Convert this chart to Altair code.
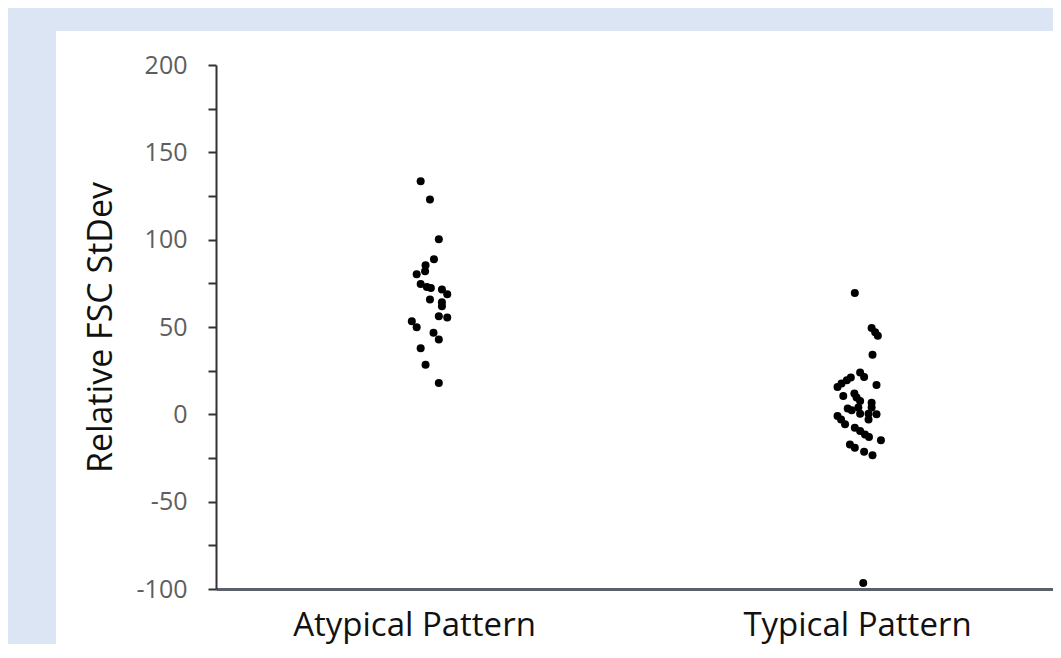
import altair as alt
import pandas as pd

categories = ["Atypical Pattern", "Typical Pattern"]

# Atypical Pattern: values and horizontal jitter (fraction of category spacing)
atypical_values = [133.5, 123.0, 100.3, 88.8, 85.3, 81.9, 80.2, 74.6, 72.9, 72.3,
                   71.5, 68.7, 65.8, 64.2, 61.9, 56.2, 55.4, 53.3, 49.9, 46.7,
                   42.8, 37.8, 28.4, 17.9]
atypical_jitter = [0.015, 0.036, 0.056, 0.045, 0.026, 0.025, 0.006, 0.015, 0.029, 0.038,
                   0.063, 0.075, 0.036, 0.063, 0.063, 0.056, 0.075, -0.005, 0.006, 0.044,
                   0.056, 0.015, 0.026, 0.056]

# Typical Pattern
typical_values = [24.0, 21.4, 21.1, 19.5, 17.6, 15.7, 16.8, 10.5, 11.9, 9.6,
                  7.6, 6.7, 3.4, 2.3, 3.9, 0.4, 0.4, 0.0, 3.9, -1.0,
                  -2.9, -5.7, -2.9, -7.7, -9.6, -11.5, -13.0, -14.9, -17.2, -19.2,
                  -21.4, -23.4, 69.4, 49.4, 47.0, 45.0, 34.1, -96.6]
typical_jitter = [0.007, 0.016, -0.014, -0.023, -0.035, -0.044, 0.044, -0.031, -0.006, -0.001,
                  0.007, 0.033, -0.021, -0.012, 0.003, 0.007, 0.026, 0.044, 0.033, -0.044,
                  -0.036, -0.027, 0.026, -0.005, 0.007, 0.018, 0.027, 0.054, -0.016, -0.005,
                  0.016, 0.035, -0.005, 0.033, 0.041, 0.047, 0.035, 0.014]

y_ticks = list(range(-100, 201, 25))

rows = []
for v, j in zip(atypical_values, atypical_jitter):
    rows.append({"group": categories[0], "pos": 1 + j, "value": v})
for v, j in zip(typical_values, typical_jitter):
    rows.append({"group": categories[1], "pos": 2 + j, "value": v})
df = pd.DataFrame(rows)

label_expr = "datum.value == 1 ? '%s' : (datum.value == 2 ? '%s' : '')" % (categories[0], categories[1])

x_scale = alt.Scale(domain=[0.553, 2.4424], nice=False, zero=False)
y_scale = alt.Scale(domain=[-100, 200], nice=False, zero=False)

panel = alt.Chart(pd.DataFrame({"a": [0]})).mark_rect(color="white").encode(
    x=alt.value(-160), x2=alt.value(1000), y=alt.value(-34), y2=alt.value(700)
)

points = alt.Chart(df).mark_circle(size=64, color="black", opacity=1).encode(
    x=alt.X("pos:Q", scale=x_scale,
            axis=alt.Axis(values=[1, 2], labelExpr=label_expr, title=None, ticks=False,
                          grid=False, domainColor="#5a6169", domainWidth=3,
                          labelFont="Open Sans", labelFontSize=33, labelColor="#111111",
                          labelPadding=20, labelBaseline="top", labelLimit=0,
                          labelOverlap=False, zindex=1)),
    y=alt.Y("value:Q", scale=y_scale,
            axis=alt.Axis(values=y_ticks,
                          labelExpr="datum.value % 50 === 0 ? toString(datum.value) : ''",
                          title="Relative FSC StDev", titleFont="Open Sans", titleFontSize=34,
                          titleFontWeight="normal", titleColor="#111111", titlePadding=18,
                          grid=False, domainColor="#333333", domainWidth=2,
                          tickColor="#333333", tickWidth=2, tickSize=8,
                          labelFont="Open Sans", labelFontSize=25, labelColor="#5e5e5e",
                          labelPadding=21, zindex=1)),
)

chart = alt.layer(panel, points).properties(
    width=837, height=524,
    autosize=alt.AutoSizeParams(type="none"),
    padding={"left": 208, "top": 57, "right": 0, "bottom": 55},
    background="#dbe5f3",
).configure_view(stroke=None)

chart.save("out.html", embed_options={"renderer": "svg", "actions": False})
